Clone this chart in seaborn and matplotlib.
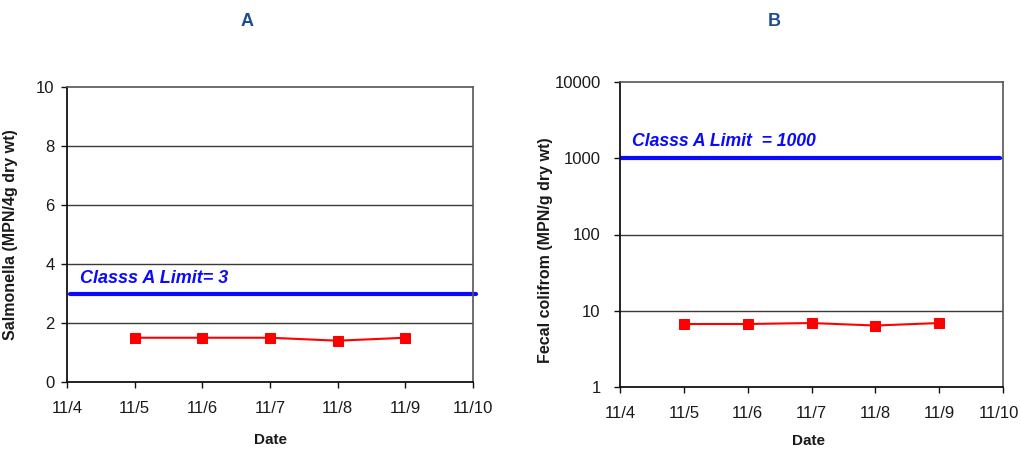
import matplotlib
matplotlib.use("Agg")
import matplotlib.pyplot as plt
import matplotlib.transforms as mtransforms
import seaborn as sns
import pandas as pd
from matplotlib.ticker import FixedLocator, FixedFormatter, NullLocator

sns.set_theme(style="white")
plt.rcParams["font.family"] = ["Liberation Sans", "DejaVu Sans"]

# Sampling dates and measured values
dates = ["11/5", "11/6", "11/7", "11/8", "11/9"]
axis_dates = ["11/4", "11/5", "11/6", "11/7", "11/8", "11/9", "11/10"]
salmonella = [1.5, 1.5, 1.5, 1.4, 1.5]
fecal_coliform = [6.7, 6.7, 6.9, 6.4, 6.9]

salmonella_limit = 3
coliform_limit = 1000
a_ticks = [0, 2, 4, 6, 8, 10]
b_ticks = [1, 10, 100, 1000, 10000]

pos = {d: i for i, d in enumerate(axis_dates)}
df = pd.DataFrame({
    "day": [pos[d] for d in dates],
    "salmonella": salmonella,
    "coliform": fecal_coliform,
})

W, H = 1021, 449
fig = plt.figure(figsize=(W / 100, H / 100), dpi=100)
fig.patch.set_facecolor("white")


def frac(left, top, right, bottom):
    return [left / W, (H - bottom) / H, (right - left) / W, (bottom - top) / H]


ax_a = fig.add_axes(frac(67, 87, 473, 382))
ax_b = fig.add_axes(frac(620, 82, 1003, 387))

title_color = "#1F4E8C"
limit_color = "#0a0aff"
grid_color = "#3a3a3a"
text_color = "#1a1a1a"


def style_axis(ax, ypad):
    ax.set_facecolor("white")
    for side in ["left", "bottom"]:
        ax.spines[side].set_color("#111111")
        ax.spines[side].set_linewidth(1.3)
    for side in ["top", "right"]:
        ax.spines[side].set_color("#555555")
        ax.spines[side].set_linewidth(1.2)
    ax.set_xlim(0, 6)
    ax.xaxis.set_major_locator(FixedLocator(range(len(axis_dates))))
    ax.xaxis.set_major_formatter(FixedFormatter(axis_dates))
    ax.tick_params(axis="x", which="major", direction="out", length=4, width=1,
                   color="#111111", pad=10, labelsize=12, labelcolor=text_color)
    ax.tick_params(axis="y", which="major", direction="out", length=4, width=1,
                   color="#111111", pad=ypad, labelsize=12, labelcolor=text_color)
    ax.tick_params(left=True, bottom=True)
    ax.grid(False)


# Panel A: Salmonella, linear scale
style_axis(ax_a, 5)
ax_a.set_ylim(0, 10)
ax_a.yaxis.set_major_locator(FixedLocator(a_ticks))
ax_a.yaxis.set_major_formatter(FixedFormatter([str(t) for t in a_ticks]))
for t in a_ticks[1:-1]:
    ax_a.axhline(t, color=grid_color, lw=1.0, zorder=1)
ax_a.axhline(salmonella_limit, xmin=0.007, xmax=1.008, color=limit_color,
             lw=3.0, zorder=2, clip_on=False)
sns.lineplot(data=df, x="day", y="salmonella", ax=ax_a, color="#ff0000",
             marker="s", markersize=7.5, markeredgecolor="#ff0000",
             linewidth=1.5, zorder=3)
ax_a.text(0.19, salmonella_limit + 0.22, "Classs A Limit= 3", color=limit_color,
          fontsize=13, fontweight="bold", fontstyle="italic", va="bottom", ha="left")
ax_a.set_ylabel("Salmonella (MPN/4g dry wt)", fontsize=11.5, fontweight="bold",
                color=text_color)
ax_a.yaxis.set_label_coords(-0.121, 0.5)
ax_a.set_xlabel("Date", fontsize=11, fontweight="bold", color=text_color)
ax_a.xaxis.set_label_coords(0.5, -0.173)

# Panel B: fecal coliform, log scale
style_axis(ax_b, 10)
ax_b.set_yscale("log")
ax_b.set_ylim(1, 10000)
ax_b.yaxis.set_major_locator(FixedLocator(b_ticks))
ax_b.yaxis.set_major_formatter(FixedFormatter([str(t) for t in b_ticks]))
ax_b.yaxis.set_minor_locator(NullLocator())
ax_b.tick_params(axis="y", which="major", direction="out", length=4, width=1,
                 color="#111111", pad=10, labelsize=12, labelcolor=text_color)
for t in b_ticks[1:-1]:
    ax_b.axhline(t, color=grid_color, lw=1.0, zorder=1)
ax_b.axhline(coliform_limit, xmin=0.0, xmax=0.992, color=limit_color,
             lw=3.0, zorder=2)
sns.lineplot(data=df, x="day", y="coliform", ax=ax_b, color="#ff0000",
             marker="s", markersize=7.5, markeredgecolor="#ff0000",
             linewidth=1.5, zorder=3)
ax_b.text(0.19, coliform_limit * 1.3, "Classs A Limit  = 1000", color=limit_color,
          fontsize=12.7, fontweight="bold", fontstyle="italic", va="bottom", ha="left")
ax_b.set_ylabel("Fecal colifrom (MPN/g dry wt)", fontsize=11.5, fontweight="bold",
                color=text_color)
ax_b.yaxis.set_label_coords(-0.175, 0.449)
ax_b.set_xlabel("Date", fontsize=11, fontweight="bold", color=text_color)
ax_b.xaxis.set_label_coords(0.493, -0.154)

# Nudge the last date label of panel B so it stays inside the canvas
last = ax_b.get_xticklabels()[-1]
last.set_transform(last.get_transform()
                   + mtransforms.ScaledTranslation(-4 / 100, 0, fig.dpi_scale_trans))

# Panel letters
fig.text(247 / W, 1 - 22 / H, "A", color=title_color, fontsize=13,
         fontweight="bold", ha="center", va="center")
fig.text(774 / W, 1 - 22 / H, "B", color=title_color, fontsize=13,
         fontweight="bold", ha="center", va="center")

fig.savefig("out.png", dpi=100, facecolor="white")
